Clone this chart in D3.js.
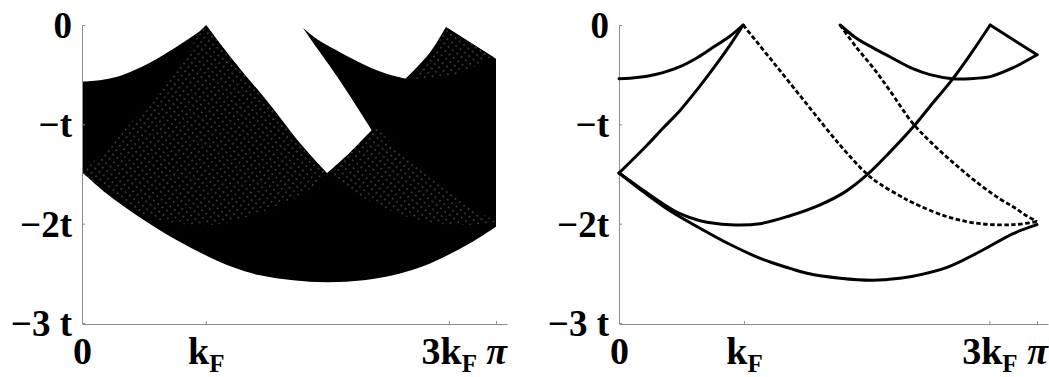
<!DOCTYPE html>
<html>
<head>
<meta charset="utf-8">
<script src="https://cdn.jsdelivr.net/npm/d3@7"></script>
<style>
  html, body { margin: 0; padding: 0; background: #fff; }
  svg { display: block; }
  .tick text { font-family: "Liberation Serif", "Times New Roman", serif; font-weight: bold; fill: #000; }
  .domain, .tick line { stroke: #8c8c8c; }
</style>
</head>
<body>
<svg id="chart" width="1049" height="377"></svg>
<script>
// ---- axis ticks: momentum in units of pi, energy in units of t ----
const kTicks = [0, 0.299, 0.886, 1];
const kTickLabels = ["0", "k_F", "3k_F", "π"];
const eTicks = [0, -1, -2, -3];
const eTickLabels = ["0", "−t", "−2t", "−3 t"];

// ---- right panel: edges of the spectrum, points are [k/π, E/t] ----
const upperArc = [[0, -0.54], [0.026, -0.535], [0.067, -0.515], [0.105, -0.48], [0.146, -0.42],
  [0.187, -0.33], [0.227, -0.22], [0.266, -0.11], [0.297, 0]];
const riseToKF = [[0, -1.49], [0.067, -1.21], [0.105, -1.04], [0.146, -0.86], [0.187, -0.65],
  [0.227, -0.43], [0.266, -0.20], [0.297, 0]];
const lowerEdge = [[0, -1.49], [0.062, -1.69], [0.122, -1.87], [0.187, -2.03], [0.266, -2.21],
  [0.344, -2.36], [0.409, -2.45], [0.450, -2.50], [0.529, -2.55], [0.608, -2.57], [0.672, -2.55],
  [0.703, -2.53], [0.785, -2.44], [0.864, -2.28], [0.943, -2.10], [1, -2.01]];
const middleArc = [[0, -1.49], [0.050, -1.64], [0.098, -1.78], [0.146, -1.90], [0.194, -1.97],
  [0.266, -2.01], [0.337, -2.00], [0.409, -1.92], [0.481, -1.81], [0.541, -1.68], [0.593, -1.51],
  [0.648, -1.28], [0.703, -1.03], [0.744, -0.82], [0.797, -0.55], [0.840, -0.30], [0.888, 0]];
const tipArc = [[0.529, 0], [0.567, -0.13], [0.608, -0.23], [0.648, -0.32], [0.703, -0.44],
  [0.744, -0.50], [0.797, -0.54], [0.840, -0.54], [0.888, -0.52], [0.943, -0.43], [1, -0.30]];
const cornerLine = [[0.888, 0], [1, -0.30]];
const dashedFromKF = [[0.297, 0], [0.368, -0.37], [0.450, -0.80], [0.529, -1.21], [0.593, -1.50],
  [0.624, -1.60], [0.672, -1.72], [0.703, -1.79], [0.785, -1.93], [0.864, -2.00], [0.943, -2.01], [1, -1.98]];
const dashedFromTip = [[0.529, 0], [0.567, -0.22], [0.608, -0.43], [0.648, -0.66], [0.703, -0.99],
  [0.756, -1.22], [0.809, -1.42], [0.864, -1.61], [0.911, -1.75], [0.943, -1.83], [0.971, -1.91], [1, -1.98]];

// ---- left panel: outline of the filled continuum, walked clockwise ----
const contTopLeft = [[0, -0.57], [0.043, -0.555], [0.085, -0.52], [0.123, -0.46], [0.164, -0.38],
  [0.205, -0.28], [0.246, -0.17], [0.285, -0.06], [0.300, 0]];
const contNotchLeft = [[0.300, 0], [0.368, -0.37], [0.450, -0.78], [0.529, -1.20], [0.592, -1.49]];
const contNotchBottom = [[0.592, -1.49], [0.648, -1.28], [0.700, -1.06]];
const contNotchRight = [[0.700, -1.06], [0.648, -0.72], [0.608, -0.47], [0.567, -0.23], [0.534, -0.03]];
const contSpike = [[0.534, -0.03], [0.567, -0.14], [0.608, -0.24], [0.648, -0.33], [0.703, -0.44],
  [0.744, -0.50], [0.782, -0.54]];
const contRise = [[0.782, -0.54], [0.840, -0.28], [0.879, -0.02]];
const contCorner = [[0.879, -0.02], [1, -0.34]];
const contRightEdge = [[1, -0.34], [1, -2.03]];
const contBottom = [[1, -2.03], [0.94, -2.19], [0.872, -2.34], [0.81, -2.45], [0.751, -2.52],
  [0.68, -2.57], [0.592, -2.59], [0.51, -2.57], [0.43, -2.52], [0.365, -2.44], [0.285, -2.29],
  [0.205, -2.11], [0.123, -1.89], [0.06, -1.70], [0, -1.48]];

const svg = d3.select("#chart");
const defs = svg.append("defs");

// lighter, single-coverage parts of the continuum show a lattice of faint white specks
const pat = defs.append("pattern")
  .attr("id", "sparse")
  .attr("patternUnits", "userSpaceOnUse")
  .attr("width", 5.5).attr("height", 5.5)
  .attr("patternTransform", "rotate(38)");
pat.append("rect").attr("width", 5.5).attr("height", 5.5).attr("fill", "#000");
pat.append("circle").attr("cx", 2.75).attr("cy", 2.75).attr("r", 0.7).attr("fill", "#fff").attr("opacity", 0.55);

const yTop = 25, yBottom = 323;
const panels = [
  { x0: 82, x1: 496, xEnd: 507 },
  { x0: 619, x1: 1037, xEnd: 1048 }
];

function makeScales(p) {
  const x = d3.scaleLinear().domain([0, 1]).range([p.x0, p.x1]);
  const y = d3.scaleLinear().domain([0, -3]).range([yTop, yBottom]);
  return { x, y };
}

function drawAxes(g, x, y, p) {
  const ya = d3.axisLeft(y).tickValues(eTicks).tickSize(-3).tickSizeOuter(0).tickPadding(10)
    .tickFormat((d, i) => eTickLabels[i]);
  const yg = g.append("g").attr("transform", `translate(${p.x0},0)`).call(ya);
  yg.selectAll(".tick text").attr("font-size", 37).attr("dy", "0.34em");

  const xExt = x.copy().domain([0, x.invert(p.xEnd)]).range([p.x0, p.xEnd]);
  const xa = d3.axisBottom(xExt).tickValues(kTicks).tickSize(-3).tickSizeOuter(0)
    .tickFormat((d, i) => kTickLabels[i]);
  const xg = g.append("g").attr("transform", `translate(0,${yBottom + 1})`).call(xa);
  xg.selectAll(".tick text").each(function (d, i) {
    const t = d3.select(this);
    const label = kTickLabels[i];
    t.text(null).attr("y", 40).attr("dy", 0).attr("font-size", 38);
    const parts = label.split("_");
    const main = t.append("tspan").text(parts[0]);
    if (label === "π") main.attr("font-style", "italic");
    if (parts[1]) {
      t.append("tspan").text(parts[1]).attr("font-size", 25).attr("dy", 8);
    }
  });
  g.selectAll(".domain").attr("stroke-width", 1);
}

// chain several curve segments into one closed outline
function chainPath(segments, line) {
  return segments.map((s, i) => {
    const d = line(s);
    return i === 0 ? d : "L" + d.slice(1);
  }).join("") + "Z";
}

// ---------- left panel ----------
{
  const p = panels[0];
  const { x, y } = makeScales(p);
  const g = svg.append("g");
  const line = d3.line().x(d => x(d[0])).y(d => y(d[1])).curve(d3.curveCatmullRom.alpha(0.5));

  const outline = chainPath([contTopLeft, contNotchLeft, contNotchBottom, contNotchRight,
    contSpike, contRise, contCorner, contRightEdge, contBottom], line);

  defs.append("clipPath").attr("id", "contClip").append("path").attr("d", outline);

  g.append("path").attr("d", outline).attr("fill", "#000");

  // single-coverage regions, built from the edge curves
  const sparse1 = [riseToKF, dashedFromKF.slice(0, 5), middleArc.slice(0, 11).reverse()];
  const sparse2 = [middleArc.slice(10, 13), dashedFromTip.slice(4), dashedFromKF.slice(4).reverse()];
  const sparse3 = [middleArc.slice(14), cornerLine, tipArc.slice(6).reverse()];
  const sg = g.append("g").attr("clip-path", "url(#contClip)");
  [sparse1, sparse2, sparse3].forEach(segs => {
    sg.append("path").attr("d", chainPath(segs, line)).attr("fill", "url(#sparse)");
  });

  drawAxes(g, x, y, p);
}

// ---------- right panel ----------
{
  const p = panels[1];
  const { x, y } = makeScales(p);
  const g = svg.append("g");
  drawAxes(g, x, y, p);
  const line = d3.line().x(d => x(d[0])).y(d => y(d[1])).curve(d3.curveCatmullRom.alpha(0.5));

  const solid = [upperArc, riseToKF, lowerEdge, middleArc, tipArc, cornerLine];
  const dashed = [dashedFromKF, dashedFromTip];

  g.selectAll("path.solid").data(solid).join("path")
    .attr("class", "solid")
    .attr("d", line)
    .attr("fill", "none").attr("stroke", "#000").attr("stroke-width", 3)
    .attr("stroke-linejoin", "round").attr("stroke-linecap", "round");

  g.selectAll("path.dashed").data(dashed).join("path")
    .attr("class", "dashed")
    .attr("d", line)
    .attr("fill", "none").attr("stroke", "#000").attr("stroke-width", 2.8)
    .attr("stroke-dasharray", "4.5,2.5");
}
</script>
</body>
</html>
